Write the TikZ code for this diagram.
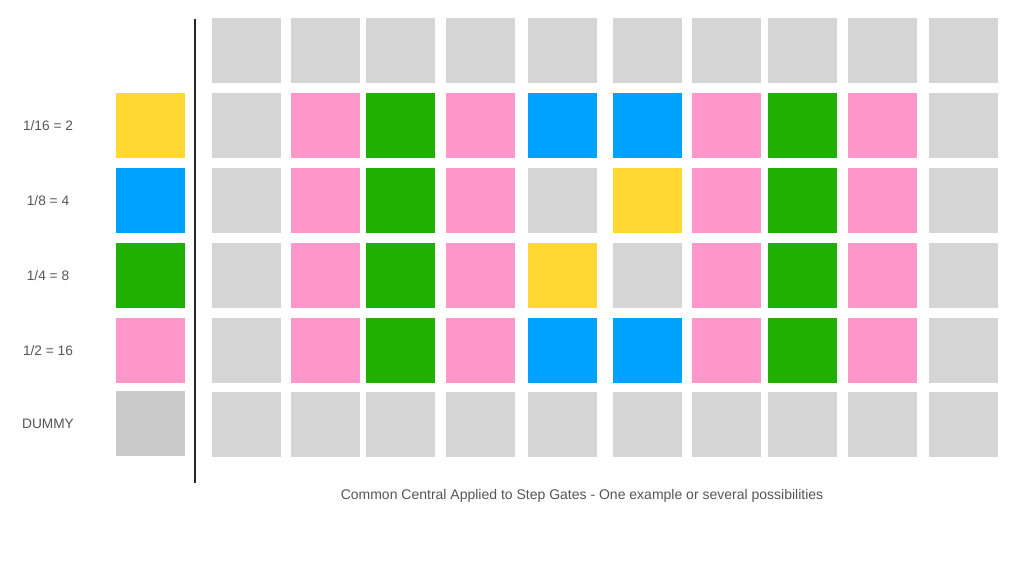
\documentclass[tikz,border=0pt]{standalone}
\usepackage{fontspec}
\setmainfont{Liberation Sans}
\usetikzlibrary{positioning}

\definecolor{gy}{HTML}{D5D5D5}
\definecolor{dg}{HTML}{CACACA}
\definecolor{pk}{HTML}{FF97CB}
\definecolor{gn}{HTML}{20B100}
\definecolor{bl}{HTML}{00A2FF}
\definecolor{yl}{HTML}{FFD932}
\definecolor{labelgray}{HTML}{555555}

\tikzset{
  gate/.style={rectangle, inner sep=0pt, minimum width=69pt, minimum height=65pt, anchor=north west},
  rowlabel/.style={text=labelgray, font=\fontsize{13.7}{16}\selectfont},
}

\begin{document}
\begin{tikzpicture}[x=1pt, y=-1pt]
\useasboundingbox (0,0) rectangle (1022,570);
% key column
\foreach \c/\y/\t [count=\k] in {yl/93/{1/16 = 2}, bl/168/{1/8 = 4}, gn/243/{1/4 = 8}, pk/318/{1/2 = 16}, dg/391/DUMMY}{
  \node[gate, fill=\c] (key\k) at (116,\y) {};
  \node[rowlabel] (lab\k) at (48,\y+32.5) {\t};
}
% step gates
\foreach \r/\y/\cols in {
  0/18/{gy,gy,gy,gy,gy,gy,gy,gy,gy,gy},
  1/93/{gy,pk,gn,pk,bl,bl,pk,gn,pk,gy},
  2/168/{gy,pk,gn,pk,gy,yl,pk,gn,pk,gy},
  3/243/{gy,pk,gn,pk,yl,gy,pk,gn,pk,gy},
  4/318/{gy,pk,gn,pk,bl,bl,pk,gn,pk,gy},
  5/392/{gy,gy,gy,gy,gy,gy,gy,gy,gy,gy}}{
  \foreach \c [count=\i] in \cols {
    \pgfmathsetmacro\xx{{212,291,366,446,528,613,692,768,848,929}[\i-1]}
    \node[gate, fill=\c] (s-\r-\i) at (\xx,\y) {};
  }
}
% divider
\coordinate (divtop) at (195,19);
\coordinate (divbot) at (195,483);
\draw[line width=1.2pt, black!85] (divtop) -- (divbot);
\node[rowlabel, font=\fontsize{14}{16}\selectfont] (caption) at (582,496) {Common Central Applied to Step Gates - One example or several possibilities};
\end{tikzpicture}
\end{document}
